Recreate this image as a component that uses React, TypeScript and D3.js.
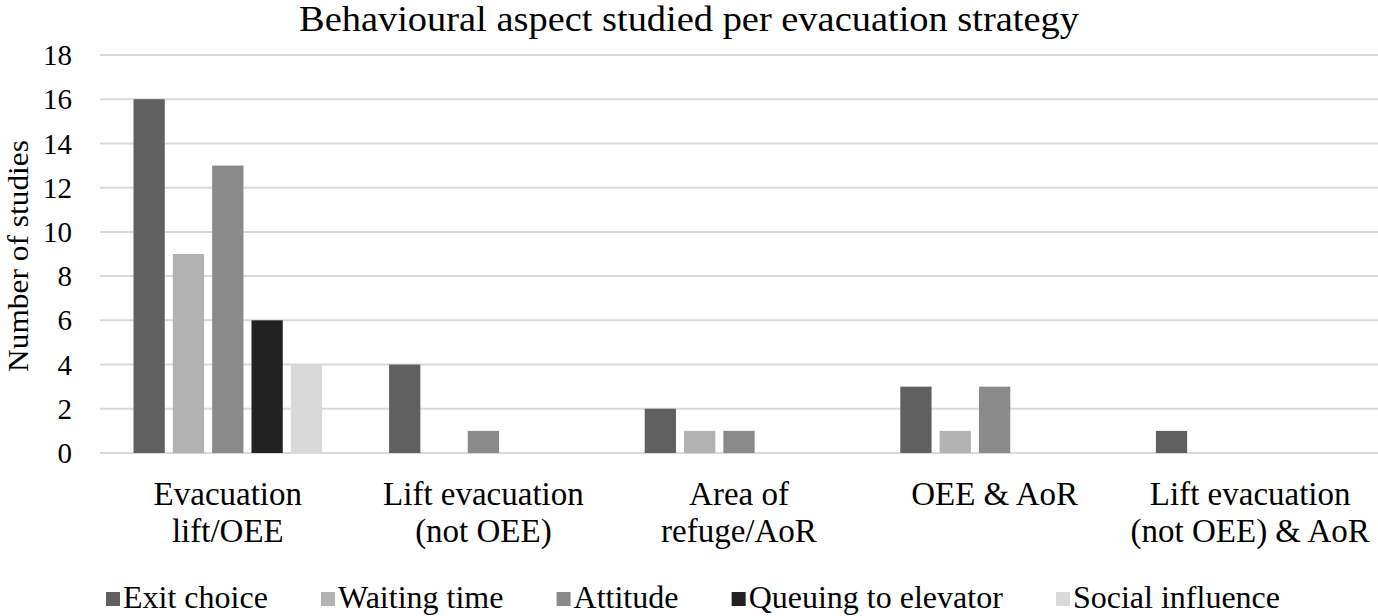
import { useEffect, useRef } from "react";
import * as d3 from "d3";

const categories = [
  ["Evacuation", "lift/OEE"],
  ["Lift evacuation", "(not OEE)"],
  ["Area of", "refuge/AoR"],
  ["OEE & AoR"],
  ["Lift evacuation", "(not OEE) & AoR"],
];

const seriesNames = [
  "Exit choice",
  "Waiting time",
  "Attitude",
  "Queuing to elevator",
  "Social influence",
];

const seriesColors = ["#606060", "#b2b2b2", "#8a8a8a", "#222222", "#d9d9d9"];

// values per series, one per category
const exitChoice = [16, 4, 2, 3, 1];
const waitingTime = [9, 0, 1, 1, 0];
const attitude = [13, 1, 1, 3, 0];
const queuing = [6, 0, 0, 0, 0];
const socialInfluence = [4, 0, 0, 0, 0];

const seriesValues = [exitChoice, waitingTime, attitude, queuing, socialInfluence];

const yTicks = [0, 2, 4, 6, 8, 10, 12, 14, 16, 18];

const FONT = "'Liberation Serif', 'Times New Roman', serif";

function App() {
  const ref = useRef<SVGSVGElement>(null);

  useEffect(() => {
    if (!ref.current) return;
    const svg = d3.select(ref.current);
    svg.selectAll("*").remove();

    const W = 1378;
    const left = 100;
    const right = 1378;
    const top = 55;
    const bottom = 453;

    const x = d3
      .scaleBand<number>()
      .domain(categories.map((_, i) => i))
      .range([left, right]);

    const xs = d3
      .scaleBand<number>()
      .domain(seriesNames.map((_, i) => i))
      .range([33.5, x.bandwidth() - 33.5])
      .paddingInner(0.205);

    const y = d3.scaleLinear().domain([0, 18]).range([bottom, top]);

    // title
    svg
      .append("text")
      .attr("x", W / 2)
      .attr("y", 31)
      .attr("text-anchor", "middle")
      .style("font-family", FONT)
      .style("font-size", "35px")
      .style("fill", "#000")
      .attr("textLength", 780)
      .attr("lengthAdjust", "spacingAndGlyphs")
      .text("Behavioural aspect studied per evacuation strategy");

    // gridlines
    svg
      .append("g")
      .selectAll("line")
      .data(yTicks)
      .join("line")
      .attr("x1", left)
      .attr("x2", right)
      .attr("y1", (d) => y(d))
      .attr("y2", (d) => y(d))
      .style("stroke", "#d9d9d9")
      .style("stroke-width", 2);

    // y tick labels
    svg
      .append("g")
      .selectAll("text")
      .data(yTicks)
      .join("text")
      .attr("x", 72)
      .attr("y", (d) => y(d))
      .attr("dy", "0.35em")
      .attr("text-anchor", "end")
      .style("font-family", FONT)
      .style("font-size", "29px")
      .style("fill", "#000")
      .text((d) => d);

    // y axis label
    svg
      .append("text")
      .attr("transform", `translate(28, ${(top + bottom) / 2 + 2}) rotate(-90)`)
      .attr("text-anchor", "middle")
      .style("font-family", FONT)
      .style("font-size", "30px")
      .style("fill", "#000")
      .attr("textLength", 232)
      .attr("lengthAdjust", "spacingAndGlyphs")
      .text("Number of studies");

    // bars
    const groups = svg
      .append("g")
      .selectAll("g")
      .data(categories.map((_, i) => i))
      .join("g")
      .attr("transform", (ci) => `translate(${x(ci)},0)`);

    groups
      .selectAll("rect")
      .data((ci) =>
        seriesValues
          .map((vals, si) => ({ si, v: vals[ci] }))
          .filter((d) => d.v > 0)
      )
      .join("rect")
      .attr("x", (d) => xs(d.si)!)
      .attr("width", xs.bandwidth())
      .attr("y", (d) => y(d.v))
      .attr("height", (d) => y(0) - y(d.v))
      .style("fill", (d) => seriesColors[d.si]);

    // category labels
    svg
      .append("g")
      .selectAll("text")
      .data(categories)
      .join("text")
      .attr("x", (_, i) => x(i)! + x.bandwidth() / 2)
      .attr("y", 505)
      .attr("text-anchor", "middle")
      .style("font-family", FONT)
      .style("font-size", "33px")
      .style("fill", "#000")
      .each(function (lines) {
        const t = d3.select(this);
        lines.forEach((ln, k) => {
          t.append("tspan")
            .attr("x", t.attr("x"))
            .attr("dy", k === 0 ? 0 : 37)
            .text(ln);
        });
      });

    // legend
    const legend = svg.append("g");
    const sq = 14;
    const gapAfterSq = 3;
    const legendLeft = 106;
    const legendRight = 1280;
    const widths: number[] = [];
    const itemGroups = seriesNames.map((name, i) => {
      const g = legend.append("g");
      g.append("rect")
        .attr("x", 0)
        .attr("y", -sq - 2)
        .attr("width", sq)
        .attr("height", sq)
        .style("fill", seriesColors[i]);
      const t = g
        .append("text")
        .attr("x", sq + gapAfterSq)
        .attr("y", 0)
        .style("font-family", FONT)
        .style("font-size", "32px")
        .style("fill", "#000")
        .text(name);
      widths.push(sq + gapAfterSq + (t.node() as SVGTextElement).getComputedTextLength());
      return g;
    });
    const sumW = d3.sum(widths);
    const gapItems = Math.max(20, (legendRight - legendLeft - sumW) / (seriesNames.length - 1));
    let cx = 0;
    itemGroups.forEach((g, i) => {
      g.attr("transform", `translate(${cx},0)`);
      cx += widths[i] + gapItems;
    });
    const total = cx - gapItems;
    legend.attr("transform", `translate(${(legendLeft + legendRight) / 2 - total / 2}, 608)`);
  }, []);

  return (
    <svg
      ref={ref}
      width={1378}
      height={616}
      style={{ display: "block", position: "absolute", left: 0, top: 0, background: "#fff" }}
    />
  );
}

export default App;
